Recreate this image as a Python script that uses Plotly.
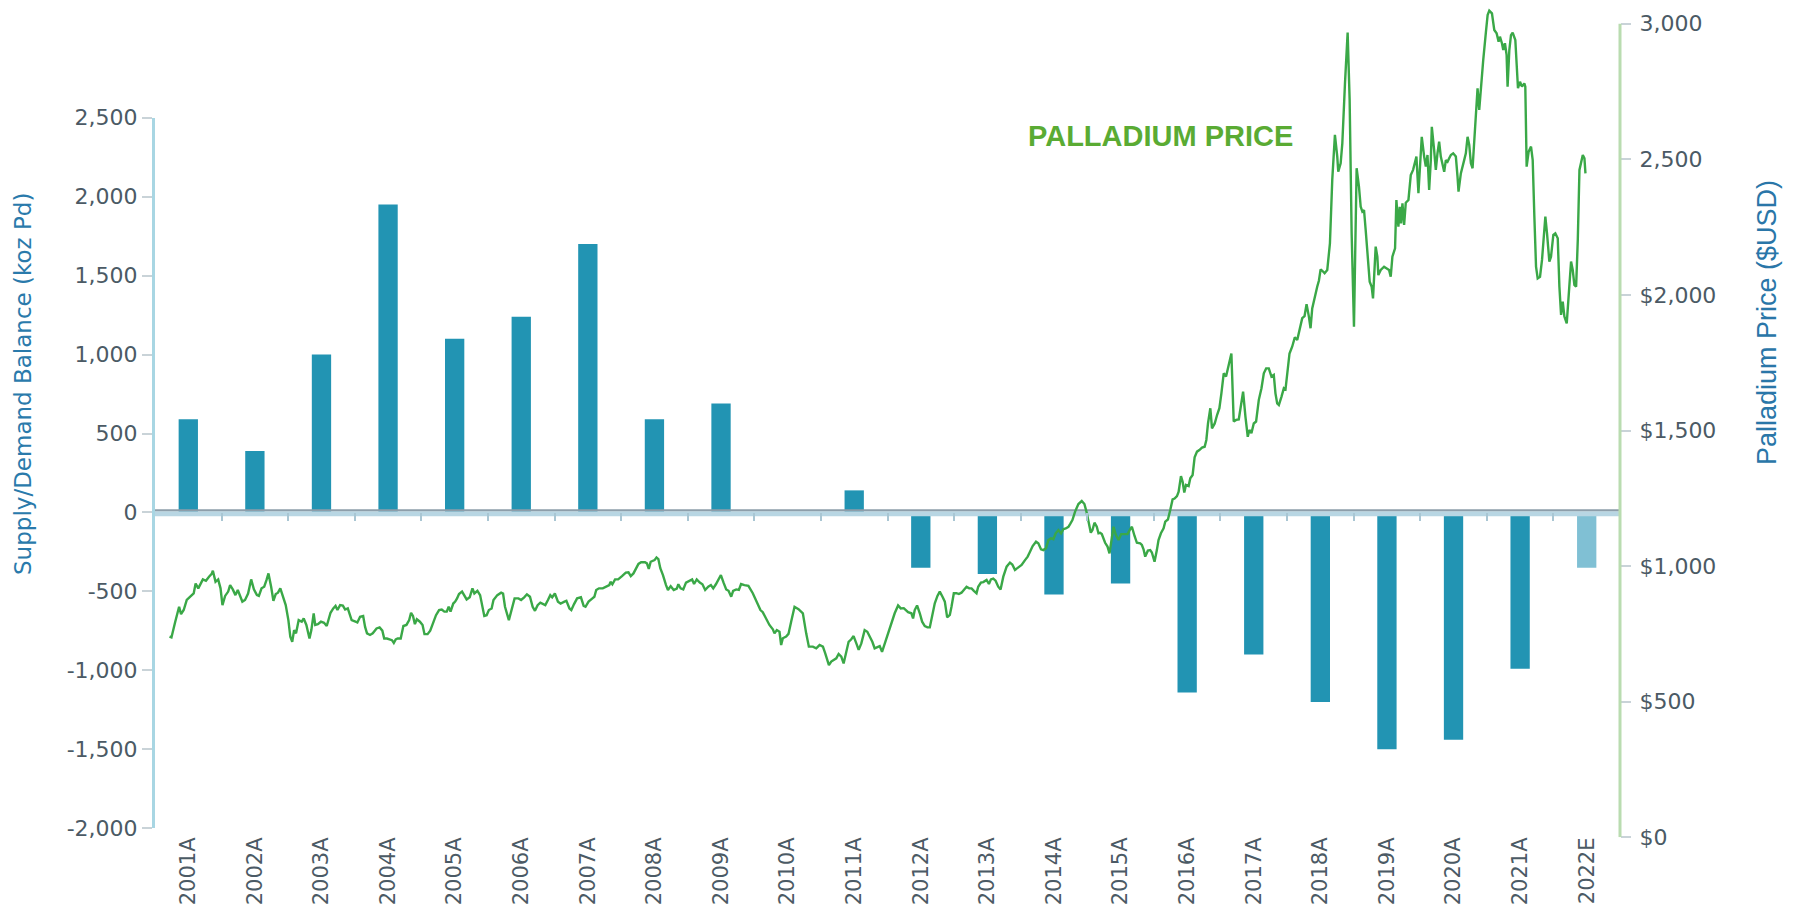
import plotly.graph_objects as go

# ---------------- data ----------------
categories = ['2001A', '2002A', '2003A', '2004A', '2005A', '2006A', '2007A', '2008A',
              '2009A', '2010A', '2011A', '2012A', '2013A', '2014A', '2015A', '2016A',
              '2017A', '2018A', '2019A', '2020A', '2021A', '2022E']
balance_koz = [590, 390, 1000, 1950, 1100, 1240, 1700, 590, 690, 0, 140, -350,
               -390, -520, -450, -1140, -900, -1200, -1500, -1440, -990, -350]

left_tick_values = [-2000, -1500, -1000, -500, 0, 500, 1000, 1500, 2000, 2500]
right_tick_values = [0, 500, 1000, 1500, 2000, 2500, 3000]
right_tick_labels = ['$0', '$500', '$1,000', '$1,500', '$2,000', '2,500', '3,000']

price_year = [
    2001.218, 2001.247, 2001.304, 2001.362, 2001.391, 2001.431, 2001.477, 2001.535, 2001.581, 2001.610,
    2001.650, 2001.719, 2001.765, 2001.811, 2001.851, 2001.869, 2001.909, 2001.949, 2001.984, 2002.013,
    2002.053, 2002.099, 2002.128, 2002.168, 2002.208, 2002.243, 2002.283, 2002.312, 2002.352, 2002.398,
    2002.444, 2002.485, 2002.531, 2002.560, 2002.600, 2002.640, 2002.675, 2002.704, 2002.744, 2002.778,
    2002.813, 2002.847, 2002.882, 2002.917, 2002.963, 2003.003, 2003.032, 2003.061, 2003.089, 2003.118,
    2003.158, 2003.204, 2003.233, 2003.273, 2003.320, 2003.348, 2003.383, 2003.406, 2003.446, 2003.492,
    2003.538, 2003.579, 2003.607, 2003.636, 2003.677, 2003.711, 2003.740, 2003.780, 2003.821, 2003.855,
    2003.895, 2003.953, 2004.011, 2004.039, 2004.080, 2004.126, 2004.155, 2004.184, 2004.229, 2004.270,
    2004.327, 2004.373, 2004.414, 2004.442, 2004.483, 2004.529, 2004.558, 2004.586, 2004.615, 2004.644,
    2004.690, 2004.730, 2004.776, 2004.817, 2004.845, 2004.874, 2004.903, 2004.932, 2004.978, 2005.018,
    2005.047, 2005.093, 2005.133, 2005.174, 2005.220, 2005.266, 2005.306, 2005.346, 2005.381, 2005.410,
    2005.438, 2005.479, 2005.508, 2005.536, 2005.565, 2005.611, 2005.640, 2005.680, 2005.726, 2005.767,
    2005.796, 2005.842, 2005.882, 2005.911, 2005.945, 2005.980, 2006.014, 2006.055, 2006.083, 2006.141,
    2006.198, 2006.227, 2006.256, 2006.314, 2006.360, 2006.400, 2006.458, 2006.498, 2006.544, 2006.585,
    2006.631, 2006.671, 2006.706, 2006.746, 2006.786, 2006.821, 2006.861, 2006.901, 2006.936, 2006.965,
    2007.005, 2007.051, 2007.091, 2007.149, 2007.178, 2007.224, 2007.252, 2007.293, 2007.339, 2007.396,
    2007.437, 2007.465, 2007.511, 2007.569, 2007.598, 2007.626, 2007.667, 2007.724, 2007.782, 2007.822,
    2007.840, 2007.868, 2007.909, 2007.955, 2008.013, 2008.070, 2008.110, 2008.145, 2008.185, 2008.226,
    2008.260, 2008.300, 2008.358, 2008.387, 2008.415, 2008.444, 2008.502, 2008.531, 2008.559, 2008.588,
    2008.628, 2008.674, 2008.703, 2008.744, 2008.790, 2008.836, 2008.859, 2008.893, 2008.933, 2008.974,
    2009.020, 2009.066, 2009.095, 2009.135, 2009.181, 2009.221, 2009.262, 2009.308, 2009.348, 2009.383,
    2009.423, 2009.463, 2009.498, 2009.538, 2009.578, 2009.613, 2009.653, 2009.682, 2009.728, 2009.768,
    2009.801, 2009.851, 2009.911, 2009.977, 2010.042, 2010.092, 2010.127, 2010.177, 2010.227, 2010.278,
    2010.303, 2010.338, 2010.378, 2010.403, 2010.428, 2010.478, 2010.513, 2010.553, 2010.604, 2010.664,
    2010.729, 2010.779, 2010.819, 2010.879, 2010.930, 2010.980, 2011.030, 2011.065, 2011.095, 2011.120,
    2011.155, 2011.195, 2011.231, 2011.266, 2011.306, 2011.341, 2011.381, 2011.416, 2011.456, 2011.491,
    2011.532, 2011.567, 2011.607, 2011.657, 2011.697, 2011.732, 2011.772, 2011.807, 2011.848, 2011.883,
    2011.918, 2011.958, 2012.008, 2012.058, 2012.108, 2012.159, 2012.199, 2012.244, 2012.284, 2012.309,
    2012.359, 2012.384, 2012.409, 2012.444, 2012.485, 2012.520, 2012.560, 2012.600, 2012.635, 2012.675,
    2012.710, 2012.750, 2012.785, 2012.826, 2012.861, 2012.896, 2012.936, 2012.961, 2012.996, 2013.036,
    2013.071, 2013.111, 2013.152, 2013.187, 2013.227, 2013.262, 2013.297, 2013.337, 2013.362, 2013.403,
    2013.438, 2013.488, 2013.523, 2013.553, 2013.588, 2013.623, 2013.663, 2013.698, 2013.739, 2013.789,
    2013.839, 2013.874, 2013.914, 2013.964, 2014.014, 2014.065, 2014.105, 2014.140, 2014.180, 2014.230,
    2014.265, 2014.305, 2014.341, 2014.381, 2014.416, 2014.456, 2014.491, 2014.526, 2014.566, 2014.606,
    2014.641, 2014.677, 2014.717, 2014.742, 2014.777, 2014.817, 2014.867, 2014.917, 2014.957, 2014.992,
    2015.028, 2015.053, 2015.078, 2015.108, 2015.143, 2015.168, 2015.193, 2015.218, 2015.268, 2015.304,
    2015.334, 2015.369, 2015.394, 2015.429, 2015.469, 2015.509, 2015.559, 2015.604, 2015.645, 2015.670,
    2015.710, 2015.745, 2015.795, 2015.820, 2015.845, 2015.870, 2015.910, 2015.945, 2015.970, 2016.010,
    2016.045, 2016.070, 2016.106, 2016.146, 2016.171, 2016.211, 2016.246, 2016.281, 2016.311, 2016.347,
    2016.372, 2016.407, 2016.432, 2016.457, 2016.482, 2016.522, 2016.547, 2016.582, 2016.612, 2016.648,
    2016.683, 2016.723,
    2016.763, 2016.788, 2016.813, 2016.848, 2016.873, 2016.914, 2016.949, 2016.984, 2017.014, 2017.049,
    2017.084, 2017.124, 2017.164, 2017.199, 2017.235, 2017.275, 2017.310, 2017.340, 2017.375, 2017.410,
    2017.435, 2017.465, 2017.500, 2017.535, 2017.576, 2017.616, 2017.651, 2017.686, 2017.726, 2017.766,
    2017.801, 2017.826, 2017.852, 2017.877, 2017.917, 2017.952, 2017.977, 2018.002, 2018.037, 2018.077,
    2018.117, 2018.153, 2018.188, 2018.228, 2018.263, 2018.293, 2018.328, 2018.353, 2018.378, 2018.418,
    2018.453, 2018.479, 2018.504, 2018.529, 2018.564, 2018.604, 2018.644, 2018.679, 2018.719, 2018.754,
    2018.769, 2018.805, 2018.830, 2018.870, 2018.910, 2018.940, 2018.970, 2019.005, 2019.030, 2019.045,
    2019.080, 2019.106, 2019.131, 2019.156, 2019.181, 2019.221, 2019.241, 2019.271, 2019.291, 2019.331,
    2019.356, 2019.371, 2019.407, 2019.457, 2019.492, 2019.532, 2019.557, 2019.582, 2019.622, 2019.642,
    2019.672, 2019.692, 2019.712, 2019.733, 2019.758, 2019.783, 2019.823, 2019.858, 2019.893, 2019.923,
    2019.943, 2019.973, 2019.998, 2020.023, 2020.059, 2020.084, 2020.109, 2020.134, 2020.159, 2020.174,
    2020.209, 2020.234, 2020.259, 2020.284, 2020.309, 2020.334, 2020.360, 2020.385, 2020.410, 2020.435,
    2020.460, 2020.495, 2020.535, 2020.560, 2020.575, 2020.610, 2020.635, 2020.660, 2020.685, 2020.711,
    2020.736, 2020.761, 2020.786, 2020.811, 2020.836, 2020.861, 2020.886, 2020.911, 2020.946, 2020.987,
    2021.012, 2021.037, 2021.077, 2021.112, 2021.147, 2021.177, 2021.197, 2021.227, 2021.247, 2021.272,
    2021.297, 2021.312, 2021.338, 2021.363, 2021.388, 2021.428, 2021.453, 2021.468, 2021.498, 2021.528,
    2021.563, 2021.578, 2021.598, 2021.628, 2021.664, 2021.689, 2021.714, 2021.739, 2021.764, 2021.799,
    2021.829, 2021.854, 2021.879, 2021.904, 2021.939, 2021.964, 2021.999, 2022.029, 2022.065, 2022.090,
    2022.115, 2022.140, 2022.165, 2022.200, 2022.230, 2022.265, 2022.290, 2022.315, 2022.341, 2022.366,
    2022.391, 2022.416, 2022.441, 2022.466, 2022.481,
]

price_usd = [
    740, 737, 795, 850, 823, 838, 875, 890, 899, 936,
    918, 951, 946, 961, 971, 983, 942, 951, 918, 856,
    890, 906, 930, 914, 893, 912, 887, 869, 875, 899,
    951, 914, 893, 890, 918, 924, 949, 973, 924, 872,
    897, 902, 918, 893, 856, 801, 740, 721, 764, 752,
    801, 795, 807, 783, 733, 764, 826, 783, 786, 795,
    791, 779, 804, 828, 844, 853, 838, 856, 854, 840,
    844, 801, 795, 792, 813, 816, 776, 752, 746, 752,
    770, 774, 762, 733, 733, 730, 727, 717, 730, 733,
    733, 779, 783, 801, 828, 816, 786, 804, 795, 783,
    749, 749, 762, 789, 819, 838, 840, 832, 832, 850,
    832, 862, 869, 881, 897, 906, 893, 877, 885, 918,
    899, 909, 893, 862, 816, 819, 838, 844, 875, 893,
    902, 899, 850, 801, 844, 881, 881, 875, 885, 896,
    887, 850, 835, 856, 865, 860, 856, 875, 893, 885,
    899, 869, 862, 869, 872, 844, 838, 860, 881, 885,
    853, 850, 869, 881, 887, 912, 918, 918, 926, 930,
    942, 933, 951, 951, 963, 976, 977, 963, 973, 992,
    1008, 1014, 1014, 1010, 990, 1016, 1022, 1032, 1026, 992,
    967, 930, 912, 926, 912, 917, 933, 918, 914, 939,
    946, 951, 934, 951, 939, 933, 912, 924, 930, 918,
    933, 949, 967, 939, 914, 909, 887, 909, 914, 912,
    934, 930, 927, 900, 865, 838, 830, 804, 783, 767,
    752, 764, 758, 709, 734, 740, 750, 795, 850, 841,
    826, 752, 703, 703, 697, 709, 703, 678, 654, 635,
    648, 654, 660, 676, 666, 641, 684, 721, 730, 742,
    715, 691, 715, 764, 758, 742, 721, 697, 700, 705,
    684, 715, 752, 795, 826, 855, 844, 845, 836, 830,
    826, 807, 838, 855, 826, 795, 779, 774, 774, 820,
    863, 890, 906, 887, 869, 811, 820, 850, 900, 900,
    897, 902, 912, 924, 918, 918, 909, 900, 924, 939,
    941, 949, 934, 951, 954, 946, 924, 914, 961, 998,
    1013, 1006, 986, 995, 1004, 1022, 1035, 1053, 1074, 1090,
    1084, 1062, 1059, 1066, 1096, 1102, 1099, 1121, 1133, 1121,
    1136, 1139, 1145, 1155, 1170, 1201, 1229, 1240, 1229, 1197,
    1145, 1123, 1133, 1160, 1145, 1121, 1123, 1118, 1086, 1072,
    1047, 1115, 1145, 1115, 1096, 1118, 1118, 1118, 1136, 1145,
    1111, 1086, 1084, 1078, 1062, 1035, 1057, 1059, 1050, 1016,
    1059, 1096, 1121, 1139, 1164, 1172, 1207, 1246, 1249, 1258,
    1274, 1332, 1311, 1271, 1299, 1295, 1324, 1336, 1401, 1422,
    1428, 1437,
    1440, 1465, 1526, 1582, 1508, 1526, 1557, 1582, 1637, 1711,
    1699, 1748, 1784, 1533, 1539, 1541, 1600, 1643, 1551, 1477,
    1502, 1490, 1526, 1533, 1613, 1656, 1711, 1729, 1729, 1699,
    1705, 1637, 1600, 1594, 1625, 1656, 1652, 1699, 1784, 1809,
    1844, 1834, 1877, 1914, 1922, 1966, 1920, 1877, 1950, 2000,
    2030, 2053, 2094, 2089, 2080, 2092, 2190, 2424, 2590, 2510,
    2454, 2485, 2559, 2780, 2967, 2719, 2227, 1883, 2252, 2467,
    2399, 2325, 2307, 2313, 2239, 2129, 2049, 2030, 1987, 2178,
    2141, 2073, 2092, 2104, 2098, 2092, 2067, 2141, 2172, 2350,
    2252, 2325, 2264, 2338, 2258, 2340, 2350, 2442, 2461, 2497,
    2510, 2375, 2479, 2583, 2510, 2473, 2516, 2387, 2497, 2620,
    2534, 2461, 2522, 2565, 2510, 2485, 2454, 2497, 2491, 2504,
    2516, 2522, 2510, 2436, 2381, 2448, 2479, 2497, 2522, 2583,
    2553, 2485, 2467, 2559, 2682, 2762, 2682, 2768, 2866, 2971,
    3032, 3048, 3038, 2977, 2965, 2934, 2952, 2928, 2903, 2928,
    2885, 2768, 2903, 2958, 2967, 2940, 2842, 2762, 2786, 2768,
    2780, 2768, 2473, 2528, 2547, 2497, 2289, 2104, 2061, 2067,
    2129, 2227, 2289, 2227, 2123, 2141, 2221, 2227, 2209, 2030,
    1926, 1975, 1920, 1895, 2006, 2123, 2092, 2037, 2030, 2202,
    2461, 2491, 2516, 2504, 2448,
]

# ---------------- layout geometry ----------------
W, H = 1796, 904
X_DOM = [155 / W, 1620 / W]
Y_DOM = [1 - 828.3 / H, 1 - 117.7 / H]
Y_RANGE = [-2000, 2500]
Y2_DOM = [1 - 837.3 / H, 1 - 2.0 / H]
Y2_RANGE = [0, 3080]
YEAR_RANGE = [2001, 2023]

zero_paper = Y_DOM[0] + (Y_DOM[1] - Y_DOM[0]) * (0 - Y_RANGE[0]) / (Y_RANGE[1] - Y_RANGE[0])
zero_on_y2 = Y2_RANGE[0] + (zero_paper - Y2_DOM[0]) / (Y2_DOM[1] - Y2_DOM[0]) * (Y2_RANGE[1] - Y2_RANGE[0])

BAR_COLOR = '#2294b3'
BAR_COLOR_EST = '#80c0d4'
bar_colors = [BAR_COLOR_EST if c.endswith('E') else BAR_COLOR for c in categories]

LABEL_COLOR = '#4b5a65'
TICK_FONT = dict(family='DejaVu Sans', size=21, color=LABEL_COLOR)

fig = go.Figure()

fig.add_trace(go.Bar(
    x=categories, y=balance_koz, marker=dict(color=bar_colors, line=dict(width=0)),
    width=0.29, xaxis='x', yaxis='y', showlegend=False, hoverinfo='x+y'))

fig.add_trace(go.Scatter(
    x=price_year, y=price_usd, mode='lines', xaxis='x2', yaxis='y2',
    line=dict(color='#3aa847', width=2.4), showlegend=False))

fig.update_layout(
    template='none',
    width=W, height=H, autosize=False,
    margin=dict(l=0, r=0, t=0, b=0, pad=0, autoexpand=False),
    paper_bgcolor='white', plot_bgcolor='rgba(0,0,0,0)',
    showlegend=False,
    xaxis=dict(domain=X_DOM, type='category', range=[-0.5, len(categories) - 0.5],
               anchor='y', automargin=False, showline=False, showgrid=False, zeroline=False,
               ticks='', tickangle=-90, tickfont=TICK_FONT, ticklabelstandoff=4),
    xaxis2=dict(domain=X_DOM, range=YEAR_RANGE, anchor='free', position=zero_paper,
                automargin=False, showline=False, showgrid=False, zeroline=False,
                showticklabels=False,
                tickvals=list(range(YEAR_RANGE[0] + 1, YEAR_RANGE[1])),
                ticks='outside', ticklen=8, tickwidth=1.5, tickcolor='#a9c6d3'),
    yaxis=dict(domain=Y_DOM, range=Y_RANGE, anchor='x', automargin=False,
               showgrid=False, zeroline=False,
               showline=True, linecolor='#a8d6e3', linewidth=3,
               tickvals=left_tick_values, ticktext=[f'{v:,}' for v in left_tick_values],
               ticks='outside', ticklen=10, tickwidth=1.5, tickcolor='#c9d3d8',
               tickfont=dict(family='DejaVu Sans', size=22, color=LABEL_COLOR)),
    yaxis2=dict(domain=Y2_DOM, range=Y2_RANGE, anchor='free', position=X_DOM[1], side='right',
                automargin=False, showgrid=False, zeroline=False, showline=False,
                tickvals=right_tick_values, ticktext=right_tick_labels,
                ticks='outside', ticklen=10, tickwidth=1.5, tickcolor='#c9d3d8',
                ticklabelstandoff=4,
                tickfont=dict(family='DejaVu Sans', size=22, color=LABEL_COLOR)),
    shapes=[
        # right axis line (0 .. 3000)
        dict(type='line', xref='paper', yref='y2', x0=X_DOM[1], x1=X_DOM[1],
             y0=right_tick_values[0], y1=right_tick_values[-1],
             line=dict(color='#b9dcb0', width=3), layer='above'),
        # zero band: light blue under, grey on top
        dict(type='line', xref='x2', yref='y2', x0=YEAR_RANGE[0], x1=YEAR_RANGE[1],
             ysizemode='pixel', yanchor=zero_on_y2, y0=-1.2, y1=-1.2,
             line=dict(color='#b8d6e3', width=5), layer='below'),
        dict(type='line', xref='x2', yref='y2', x0=YEAR_RANGE[0], x1=YEAR_RANGE[1],
             ysizemode='pixel', yanchor=zero_on_y2, y0=2.2, y1=2.2,
             line=dict(color='#8d9eaa', width=2), layer='below'),
    ],
    annotations=[
        dict(text='Supply/Demand Balance (koz Pd)', xref='paper', yref='paper',
             x=23 / W, y=1 - 384 / H, xanchor='center', yanchor='middle', textangle=-90,
             showarrow=False, font=dict(family='DejaVu Sans', size=23, color='#2a7aab')),
        dict(text='Palladium Price ($USD)', xref='paper', yref='paper',
             x=1767 / W, y=1 - 323 / H, xanchor='center', yanchor='middle', textangle=-90,
             showarrow=False, font=dict(family='Liberation Sans', size=27, color='#2a76a8')),
        dict(text='PALLADIUM PRICE', xref='paper', yref='paper',
             x=1026 / W, y=1 - 136 / H, xanchor='left', yanchor='middle',
             showarrow=False, font=dict(family='Liberation Sans', size=29, color='#5aab33',
                                         weight='bold')),
    ],
)

fig.write_html("out.html", config={'displayModeBar': False},
               post_script="document.body.style.margin='0';")
